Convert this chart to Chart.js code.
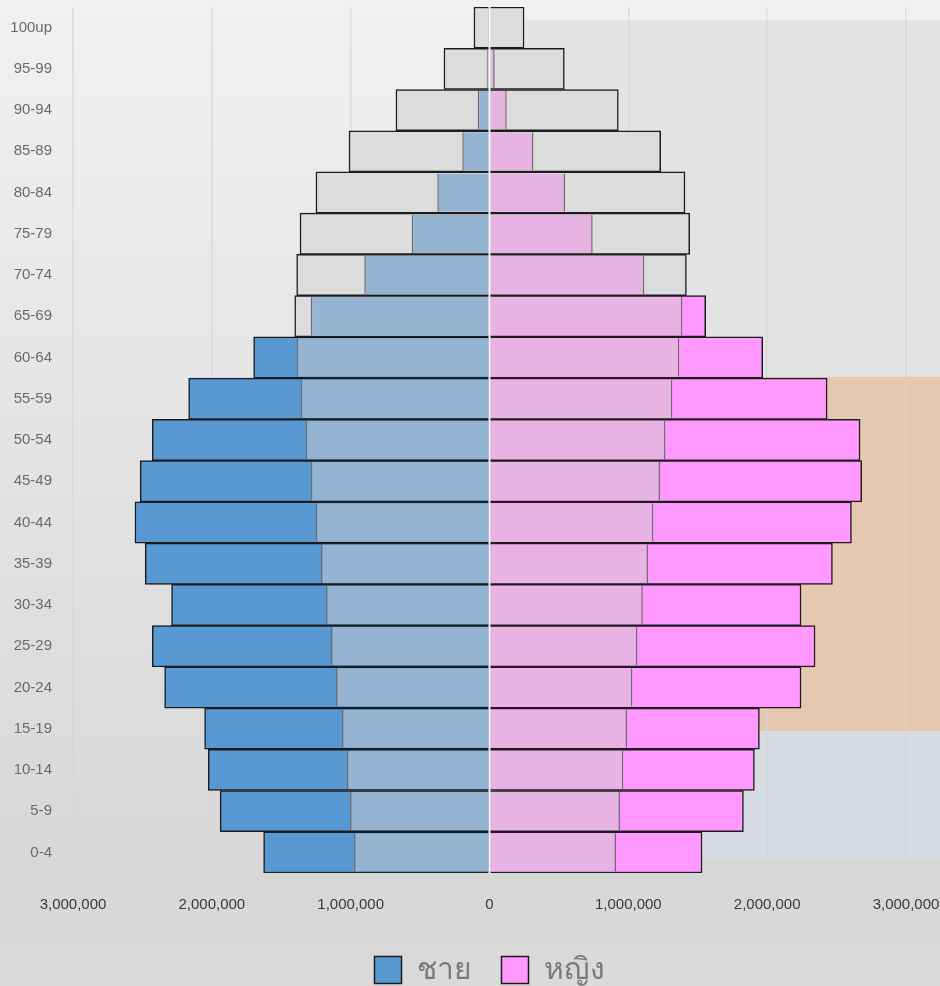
<!DOCTYPE html>
<html>
<head>
<meta charset="utf-8">
<script src="https://cdn.jsdelivr.net/npm/chart.js@4.4.1/dist/chart.umd.min.js"></script>
<style>
    html, body { margin: 0; padding: 0; background: #e4e4e4; }
    canvas { display: block; }
</style>
</head>
<body>
<canvas id="pyramid" width="940" height="986"></canvas>
<script>
const ageGroups = ['100up', '95-99', '90-94', '85-89', '80-84', '75-79', '70-74', '65-69', '60-64', '55-59',
    '50-54', '45-49', '40-44', '35-39', '30-34', '25-29', '20-24', '15-19', '10-14', '5-9', '0-4'];

// outer bars (later year) and inner bars (earlier year)
const maleOuter = [112000, 328000, 674000, 1012000, 1250000, 1365000, 1389000, 1403000, 1699000, 2167000,
    2429000, 2516000, 2554000, 2480000, 2290000, 2429000, 2340000, 2052000, 2026000, 1940000, 1627000];
const maleInner = [10000, 20000, 85000, 196000, 376000, 560000, 902000, 1288000, 1389000, 1360000,
    1324000, 1288000, 1252000, 1214000, 1178000, 1142000, 1106000, 1063000, 1027000, 1005000, 976000];
const femaleOuter = [249000, 539000, 928000, 1233000, 1408000, 1442000, 1418000, 1557000, 1968000, 2432000,
    2669000, 2681000, 2607000, 2470000, 2244000, 2345000, 2244000, 1944000, 1908000, 1829000, 1531000];
const femaleInner = [3000, 37000, 124000, 316000, 544000, 743000, 1115000, 1389000, 1367000, 1317000,
    1267000, 1228000, 1180000, 1142000, 1104000, 1065000, 1029000, 991000, 964000, 940000, 911000];

const xTicks = [-3000000, -2000000, -1000000, 0, 1000000, 2000000, 3000000];
const legendLabels = ['ชาย', 'หญิง'];

// background bands behind the right half: [from category, to category, colour]
const bands = [
    [-0.18, 8.47, 'rgba(226,226,226,0.85)'],
    [8.47, 17.06, '#e6c8b0'],
    [17.06, 20.16, '#d7dbe3']
];

const maleGreyRows = 8;
const femaleGreyRows = 7;

const grey = '#dcdcdc';
const maleColor = '#5899d4';
const femaleColor = '#ff99ff';

const backgroundPlugin = {
    id: 'pageBackground',
    beforeDraw(chart) {
        const ctx = chart.ctx;
        const g = ctx.createLinearGradient(0, 0, 0, chart.height);
        g.addColorStop(0, '#f1f1f1');
        g.addColorStop(0.89, '#d7d7d7');
        g.addColorStop(1, '#dadada');
        ctx.save();
        ctx.fillStyle = g;
        ctx.fillRect(0, 0, chart.width, chart.height);

        const x = chart.scales.x;
        const y = chart.scales.y;
        const left = x.getPixelForValue(0);
        bands.forEach(b => {
            const top = y.getPixelForValue(b[0]);
            const bottom = y.getPixelForValue(b[1]);
            ctx.fillStyle = b[2];
            ctx.fillRect(left, top, chart.width - left, bottom - top);
        });
        ctx.restore();
    },
    afterDatasetsDraw(chart) {
        const ctx = chart.ctx;
        const x = chart.scales.x.getPixelForValue(0);
        const area = chart.chartArea;
        ctx.save();
        ctx.strokeStyle = 'rgba(255,255,255,0.85)';
        ctx.lineWidth = 1.5;
        ctx.beginPath();
        ctx.moveTo(x, area.top);
        ctx.lineTo(x, area.bottom);
        ctx.stroke();
        ctx.restore();
    }
};

new Chart(document.getElementById('pyramid'), {
    type: 'bar',
    data: {
        labels: ageGroups,
        datasets: [
            {
                label: 'ชาย',
                data: maleInner.map(v => -v),
                backgroundColor: '#94b4d2',
                borderColor: '#6e6e6e',
                borderWidth: { left: 1.5, right: 1.5, top: 0, bottom: 0 },
                borderSkipped: 'start',
                barPercentage: 0.93,
                categoryPercentage: 1,
                order: 0
            },
            {
                label: 'หญิง',
                data: femaleInner,
                backgroundColor: '#e6b3e3',
                borderColor: '#6e6e6e',
                borderWidth: { left: 1.5, right: 1.5, top: 0, bottom: 0 },
                borderSkipped: 'start',
                barPercentage: 0.93,
                categoryPercentage: 1,
                order: 0
            },
            {
                label: 'ชาย',
                data: maleOuter.map(v => -v),
                backgroundColor: maleOuter.map((v, i) => i < maleGreyRows ? grey : maleColor),
                borderColor: '#1c1c1c',
                borderWidth: 1.5,
                borderSkipped: 'start',
                barPercentage: 1,
                categoryPercentage: 1,
                order: 1
            },
            {
                label: 'หญิง',
                data: femaleOuter,
                backgroundColor: femaleOuter.map((v, i) => i < femaleGreyRows ? grey : femaleColor),
                borderColor: '#1c1c1c',
                borderWidth: 1.5,
                borderSkipped: 'start',
                barPercentage: 1,
                categoryPercentage: 1,
                order: 1
            }
        ]
    },
    options: {
        indexAxis: 'y',
        responsive: false,
        animation: false,
        layout: { padding: { top: 7, right: 34, left: 0, bottom: -9 } },
        datasets: { bar: { grouped: false } },
        plugins: {
            tooltip: { enabled: false },
            legend: {
                position: 'bottom',
                fullSize: false,
                labels: {
                    boxWidth: 27,
                    boxHeight: 27,
                    padding: 30,
                    color: '#7a7a7a',
                    font: { family: '"Noto Sans", "DejaVu Sans", sans-serif', size: 30 },
                    generateLabels: () => legendLabels.map((text, i) => ({
                        text: text,
                        fillStyle: i === 0 ? maleColor : femaleColor,
                        fontColor: '#7a7a7a',
                        strokeStyle: '#1c1c1c',
                        lineWidth: 1.5,
                        hidden: false,
                        datasetIndex: i
                    }))
                }
            }
        },
        scales: {
            x: {
                min: -3000000,
                max: 3000000,
                afterBuildTicks: axis => { axis.ticks = xTicks.map(v => ({ value: v })); },
                afterFit: axis => {
                    axis.height = 52;
                    axis.paddingLeft = 0;
                    axis.paddingRight = 0;
                },
                grid: { color: 'rgba(214,214,214,0.75)', lineWidth: 1.5, drawTicks: false },
                border: { display: false },
                ticks: {
                    padding: 23,
                    maxRotation: 0,
                    color: '#3a3a3a',
                    font: { family: '"Liberation Sans", Arial, sans-serif', size: 15 },
                    callback: v => Math.abs(v).toLocaleString('en-US')
                }
            },
            y: {
                afterFit: axis => {
                    axis.width = 73;
                    axis.paddingTop = 0;
                    axis.paddingBottom = 0;
                },
                grid: { display: false },
                border: { display: false },
                ticks: {
                    padding: 13,
                    color: '#6a6a6a',
                    font: { family: '"Liberation Sans", Arial, sans-serif', size: 15 }
                }
            }
        }
    },
    plugins: [backgroundPlugin]
});
</script>
</body>
</html>
